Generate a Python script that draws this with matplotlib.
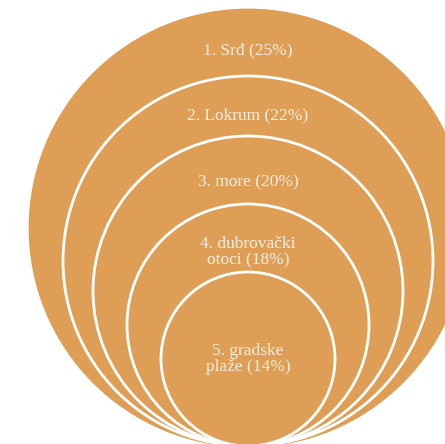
import matplotlib.pyplot as plt
from matplotlib.patches import Circle

# Data
labels = ["1. Srđ", "2. Lokrum", "3. more", "4. dubrovački\notoci", "5. gradske\nplaže"]
shares = [25, 22, 20, 18, 14]

# Layout (pixel space of the 445x444 image)
W, H = 445, 444
cx, bottom = 248, 446
radii = [218, 185, 155, 121, 87]
label_y = [50, 115, 182, 252, 359]

fill = "#DF9E55"
text_col = "#F7EEE2"

fig = plt.figure(figsize=(4.45, 4.44), dpi=100)
ax = fig.add_axes([0, 0, 1, 1])
ax.set_xlim(0, W)
ax.set_ylim(H, 0)
ax.set_aspect("auto")
ax.axis("off")

for i, r in enumerate(radii):
    ax.add_patch(Circle((cx, bottom - r), r, facecolor=fill,
                        edgecolor="white" if i else fill, linewidth=2.0,
                        zorder=i + 1))

for lab, pct, y in zip(labels, shares, label_y):
    ax.text(cx, y, f"{lab} ({pct}%)", ha="center", va="center",
            color=text_col, fontsize=12.5, family="Liberation Serif",
            linespacing=1.05, zorder=10)

fig.savefig("out.png", dpi=100)
